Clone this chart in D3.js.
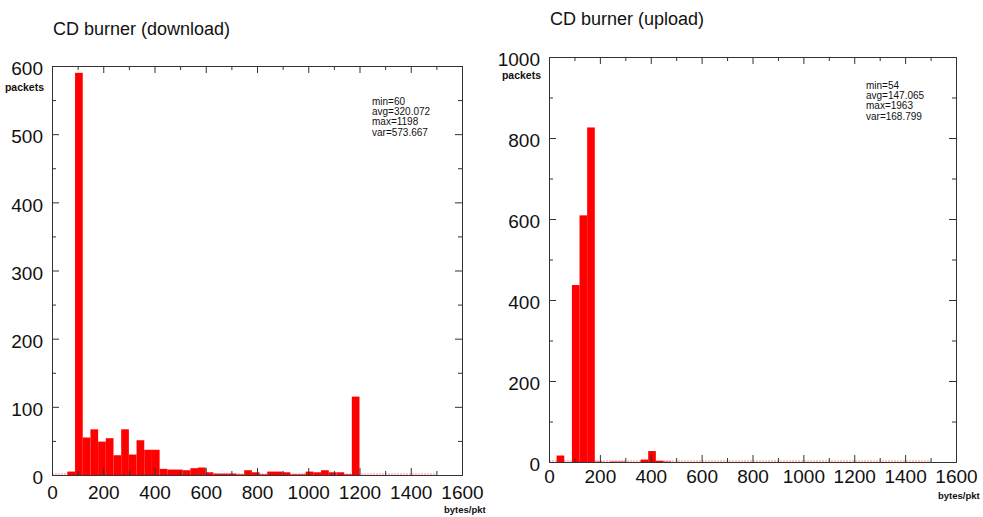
<!DOCTYPE html>
<html>
<head>
<meta charset="utf-8">
<script src="https://cdn.jsdelivr.net/npm/d3@7"></script>
<style>
  body { margin: 0; background: #fff; }
  svg { display: block; font-family: "Liberation Sans", Arial, Helvetica, sans-serif; }
  .frame path.domain { stroke: #333; stroke-width: 1; }
  .frame line { stroke: #333; stroke-width: 1; }
  .frame text { font-size: 19px; fill: #111; }
</style>
</head>
<body>
<svg id="chart" width="983" height="517"></svg>
<script>
// Histogram bins (left edge of each 30-byte bin)
var binStarts = [0, 30, 60, 90, 120, 150, 180, 210, 240, 270,
                 300, 330, 360, 390, 420, 450, 480, 510, 540, 570,
                 600, 630, 660, 690, 720, 750, 780, 810, 840, 870,
                 900, 930, 960, 990, 1020, 1050, 1080, 1110, 1140, 1170,
                 1200, 1230, 1260, 1290, 1320, 1350, 1380, 1410, 1440, 1470];
var binWidth = 30;

// Packet counts per bin, download direction
var downloadCounts = [0, 0, 5, 590, 55, 67, 49, 54, 29, 67,
                      30, 51, 37, 37, 9, 8, 8, 7, 10, 11,
                      4, 2, 2, 2, 1, 7, 4, 1, 5, 5,
                      4, 1, 1, 5, 4, 7, 4, 4, 1, 115,
                      0, 0, 0, 0, 0, 0, 0, 0, 0, 0];

// Packet counts per bin, upload direction
var uploadCounts = [0, 16, 0, 437, 609, 826, 1, 0, 1, 1,
                    0, 0, 6, 27, 3, 1, 0, 0, 0, 0,
                    0, 0, 0, 0, 0, 0, 0, 0, 0, 0,
                    0, 0, 0, 0, 0, 0, 0, 0, 0, 0,
                    0, 0, 0, 0, 0, 0, 0, 0, 0, 0];

var xTicks = [0, 200, 400, 600, 800, 1000, 1200, 1400, 1600];
var xMinorTicks = [100, 300, 500, 700, 900, 1100, 1300, 1500];
var downloadYTicks = [0, 100, 200, 300, 400, 500, 600];
var downloadYMinor = [50, 150, 250, 350, 450, 550];
var uploadYTicks = [0, 200, 400, 600, 800, 1000];
var uploadYMinor = [100, 300, 500, 700, 900];

var downloadStats = ['min=60', 'avg=320.072', 'max=1198', 'var=573.667'];
var uploadStats = ['min=54', 'avg=147.065', 'max=1963', 'var=168.799'];

var svg = d3.select('#chart');
var plain = d3.format('d');

function panel(o) {
  var x = d3.scaleLinear().domain([0, 1600]).range([o.left, o.right]);
  var y = d3.scaleLinear().domain([0, o.ymax]).range([o.bottom, o.top]);
  var g = svg.append('g');

  // title
  g.append('text')
    .attr('x', o.left + 1).attr('y', o.titleY)
    .style('font-size', '18px').style('fill', '#111')
    .text(o.title);

  // zero-height bins leave a faint red trace along the baseline
  g.append('line')
    .attr('x1', x(0)).attr('x2', x(1500))
    .attr('y1', y(0) - 1).attr('y2', y(0) - 1)
    .attr('stroke', '#ff7070').attr('stroke-width', 0.8)
    .attr('stroke-dasharray', '2,1');

  // bars
  var bins = binStarts.map(function(b, i) { return {x0: b, v: o.counts[i]}; });
  g.selectAll('rect.bar').data(bins.filter(function(d) { return d.v > 0; }))
    .enter().append('rect')
    .attr('class', 'bar')
    .attr('x', function(d) { return x(d.x0); })
    .attr('width', function(d) { return x(d.x0 + binWidth) - x(d.x0); })
    .attr('y', function(d) { return y(d.v); })
    .attr('height', function(d) { return y(0) - y(d.v); })
    .attr('fill', '#ff0000');

  // axes: ticks point inward on all four sides
  function ax(gen, tr, vals, size, labels) {
    var a = gen.tickValues(vals).tickSizeInner(size).tickSizeOuter(0)
               .tickFormat(labels ? plain : '');
    return g.append('g').attr('class', 'frame').attr('transform', tr).call(a);
  }
  var bx = 'translate(0,' + o.bottom + ')', tx = 'translate(0,' + o.top + ')';
  var lx = 'translate(' + o.left + ',0)', rx = 'translate(' + o.right + ',0)';

  ax(d3.axisBottom(x).tickPadding(o.xPad), bx, xTicks, -7, true);
  ax(d3.axisBottom(x), bx, xMinorTicks, -4, false);
  ax(d3.axisTop(x), tx, xTicks, -7, false);
  ax(d3.axisTop(x), tx, xMinorTicks, -4, false);
  var yl = ax(d3.axisLeft(y).tickPadding(9), lx, o.yTicks, -7, true);
  yl.selectAll('text').attr('dy', '0.46em');
  ax(d3.axisLeft(y), lx, o.yMinor, -4, false);
  ax(d3.axisRight(y), rx, o.yTicks, -7, false);
  ax(d3.axisRight(y), rx, o.yMinor, -4, false);

  // unit labels
  g.append('text')
    .attr('x', o.left - 8).attr('y', o.top + o.unitDy)
    .attr('text-anchor', 'end')
    .style('font-size', '10.5px').style('font-weight', 'bold').style('fill', '#111')
    .text('packets');
  g.append('text')
    .attr('x', o.right - 18).attr('y', o.bottom + o.bytesDy)
    .style('font-size', '9.5px').style('font-weight', 'bold').style('fill', '#111')
    .text('bytes/pkt');

  // summary numbers
  g.append('g').selectAll('text').data(o.stats).enter().append('text')
    .attr('x', o.statsX)
    .attr('y', function(d, i) { return o.statsY + i * o.statsStep; })
    .style('font-size', '10px').style('fill', '#111')
    .text(function(d) { return d; });
}

panel({
  title: 'CD burner (download)', titleY: 35,
  left: 52, right: 462, top: 66, bottom: 475,
  ymax: 600, yTicks: downloadYTicks, yMinor: downloadYMinor,
  counts: downloadCounts, xPad: 11, unitDy: 25, bytesDy: 38,
  stats: downloadStats, statsX: 372, statsY: 105, statsStep: 10.2
});

panel({
  title: 'CD burner (upload)', titleY: 25,
  left: 549, right: 956, top: 57, bottom: 462,
  ymax: 1000, yTicks: uploadYTicks, yMinor: uploadYMinor,
  counts: uploadCounts, xPad: 8, unitDy: 22, bytesDy: 37,
  stats: uploadStats, statsX: 866, statsY: 89, statsStep: 10.2
});
</script>
</body>
</html>
